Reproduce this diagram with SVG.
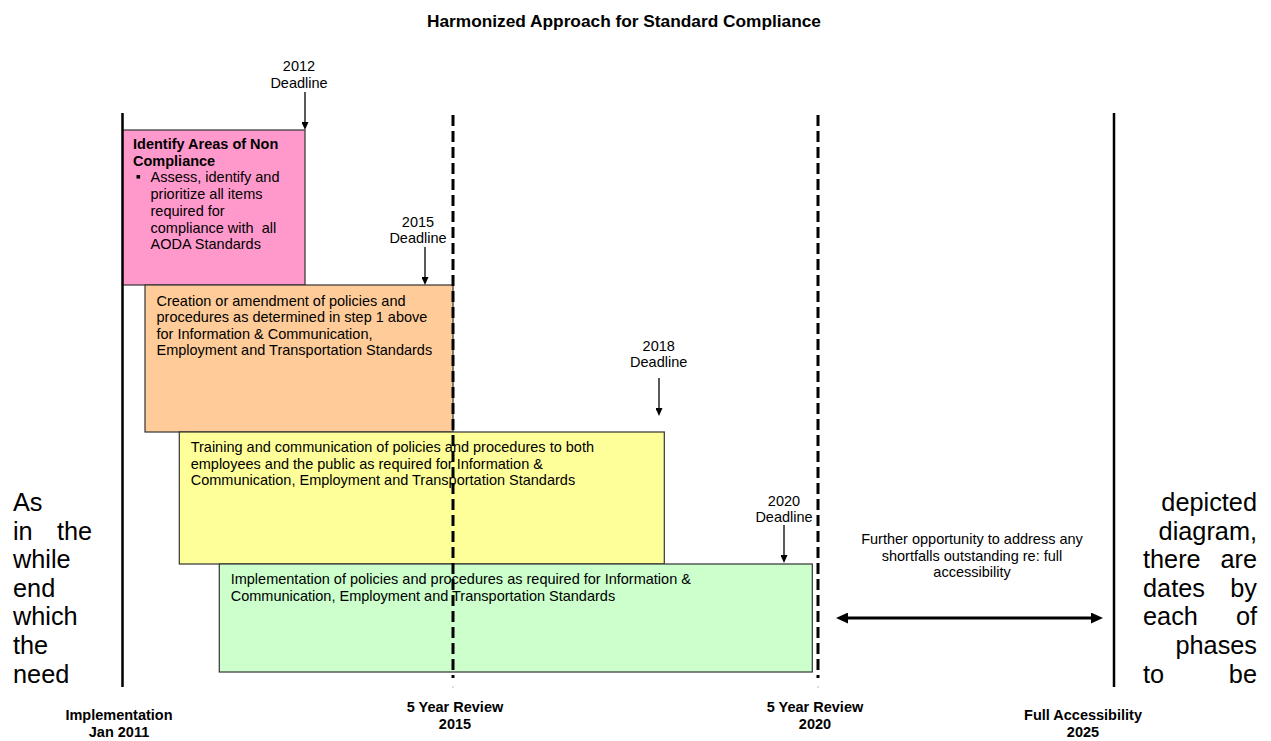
<svg xmlns="http://www.w3.org/2000/svg" width="1271" height="741" viewBox="0 0 1271 741">
<style>
.t{font-family:"Liberation Sans",Arial,sans-serif;font-size:14.5px;fill:#000}
.b{font-weight:bold}
.c{text-anchor:middle}
.e{text-anchor:end}
.big{font-family:"Liberation Sans",Arial,sans-serif;font-size:25.3px;fill:#000}
.box{stroke:#333;stroke-width:1.2}
.solid{stroke:#000;stroke-width:2.5}
.dash{stroke:#000;stroke-width:3;stroke-dasharray:11 5}
.dl{stroke:#000;stroke-width:1.3;fill:none;marker-end:url(#ah)}
</style>
<defs>
<marker id="ah" markerUnits="userSpaceOnUse" markerWidth="8" markerHeight="7" refX="2" refY="3.5" orient="auto">
<path d="M0,0 L8,3.5 L0,7 z" fill="#000"/>
</marker>
<marker id="ah2" markerUnits="userSpaceOnUse" markerWidth="12" markerHeight="11" refX="2" refY="5.5" orient="auto-start-reverse">
<path d="M0,0 L12,5.5 L0,11 z" fill="#000"/>
</marker>
</defs>
<rect width="1271" height="741" fill="#fff"/>

<g id="background-text">
<text class="big" x="13" y="511">As</text>
<text class="big" x="13" y="539.6">in</text>
<text class="big" x="57" y="539.6">the</text>
<text class="big" x="13" y="568.2">while</text>
<text class="big" x="13" y="596.8">end</text>
<text class="big" x="13" y="625.4">which</text>
<text class="big" x="13" y="654">the</text>
<text class="big" x="13" y="682.6">need</text>
<text class="big e" x="1257" y="511">depicted</text>
<text class="big e" x="1257" y="539.6">diagram,</text>
<text class="big" x="1143" y="568.2">there</text>
<text class="big e" x="1257" y="568.2">are</text>
<text class="big" x="1143" y="596.8">dates</text>
<text class="big e" x="1257" y="596.8">by</text>
<text class="big" x="1143" y="625.4">each</text>
<text class="big e" x="1257" y="625.4">of</text>
<text class="big e" x="1257" y="654">phases</text>
<text class="big" x="1143" y="682.6">to</text>
<text class="big e" x="1257" y="682.6">be</text>
</g>

<g id="title">
<text class="t b c" x="624" y="26.5" style="font-size:17.3px">Harmonized Approach for Standard Compliance</text>
</g>

<g id="phase1">
<rect class="box" x="122.5" y="130" width="182.5" height="155" fill="#FF99CC"/>
<text class="t b" x="133" y="149">Identify Areas of Non</text>
<text class="t b" x="133" y="165.7">Compliance</text>
<rect x="136.5" y="175" width="3.6" height="3.6" fill="#000"/>
<text class="t" x="150.5" y="182.4">Assess, identify and</text>
<text class="t" x="150.5" y="199.1">prioritize all items</text>
<text class="t" x="150.5" y="215.8">required for</text>
<text class="t" x="150.5" y="232.5" xml:space="preserve">compliance with  all</text>
<text class="t" x="150.5" y="249.2">AODA Standards</text>
</g>

<g id="phase2">
<rect class="box" x="145" y="285" width="308" height="147" fill="#FFCC99"/>
<text class="t" x="156.5" y="305.5">Creation or amendment of policies and</text>
<text class="t" x="156.5" y="322">procedures as determined in step 1 above</text>
<text class="t" x="156.5" y="338.5">for Information &amp; Communication,</text>
<text class="t" x="156.5" y="355">Employment and Transportation Standards</text>
</g>

<g id="phase3">
<rect class="box" x="179.3" y="432" width="485" height="132" fill="#FFFF99"/>
<text class="t" x="190.7" y="452">Training and communication of policies and procedures to both</text>
<text class="t" x="190.7" y="468.5">employees and the public as required for Information &amp;</text>
<text class="t" x="190.7" y="485">Communication, Employment and Transportation Standards</text>
</g>

<g id="phase4">
<rect class="box" x="219.3" y="564" width="593" height="108" fill="#CCFFCC"/>
<text class="t" x="230.7" y="584">Implementation of policies and procedures as required for Information &amp;</text>
<text class="t" x="230.7" y="600.5">Communication, Employment and Transportation Standards</text>
</g>

<g id="timeline">
<line class="solid" x1="122.5" y1="113" x2="122.5" y2="687"/>
<line class="dash" x1="453" y1="115" x2="453" y2="678"/>
<line class="dash" x1="818" y1="115" x2="818" y2="678"/>
<line class="solid" x1="1114" y1="113" x2="1114" y2="687"/>
<rect x="452.5" y="686" width="1" height="2" fill="#bbb"/>
<rect x="817.5" y="686" width="1" height="2" fill="#bbb"/>
</g>

<g id="deadlines">
<text class="t c" x="299" y="71">2012</text>
<text class="t c" x="299" y="87.5">Deadline</text>
<text class="t c" x="418" y="227">2015</text>
<text class="t c" x="418" y="243">Deadline</text>
<text class="t c" x="658.7" y="350.5">2018</text>
<text class="t c" x="658.7" y="367">Deadline</text>
<text class="t c" x="784" y="506">2020</text>
<text class="t c" x="784" y="522">Deadline</text>
</g>

<g id="connectors">
<line class="dl" x1="305" y1="92" x2="305" y2="124"/>
<line class="dl" x1="425" y1="247" x2="425" y2="279"/>
<line class="dl" x1="659" y1="378" x2="659" y2="410"/>
<line class="dl" x1="784" y1="525" x2="784" y2="557"/>
<line x1="846" y1="618" x2="1093" y2="618" stroke="#000" stroke-width="3" marker-start="url(#ah2)" marker-end="url(#ah2)"/>
</g>

<g id="further-note">
<text class="t c" x="972" y="544">Further opportunity to address any</text>
<text class="t c" x="972" y="560.5">shortfalls outstanding re: full</text>
<text class="t c" x="972" y="577">accessibility</text>
</g>

<g id="axis-labels">
<text class="t b c" x="119" y="720">Implementation</text>
<text class="t b c" x="119" y="737">Jan 2011</text>
<text class="t b c" x="455" y="712">5 Year Review</text>
<text class="t b c" x="455" y="729">2015</text>
<text class="t b c" x="815" y="712">5 Year Review</text>
<text class="t b c" x="815" y="729">2020</text>
<text class="t b c" x="1083" y="720">Full Accessibility</text>
<text class="t b c" x="1083" y="737">2025</text>
</g>
</svg>
